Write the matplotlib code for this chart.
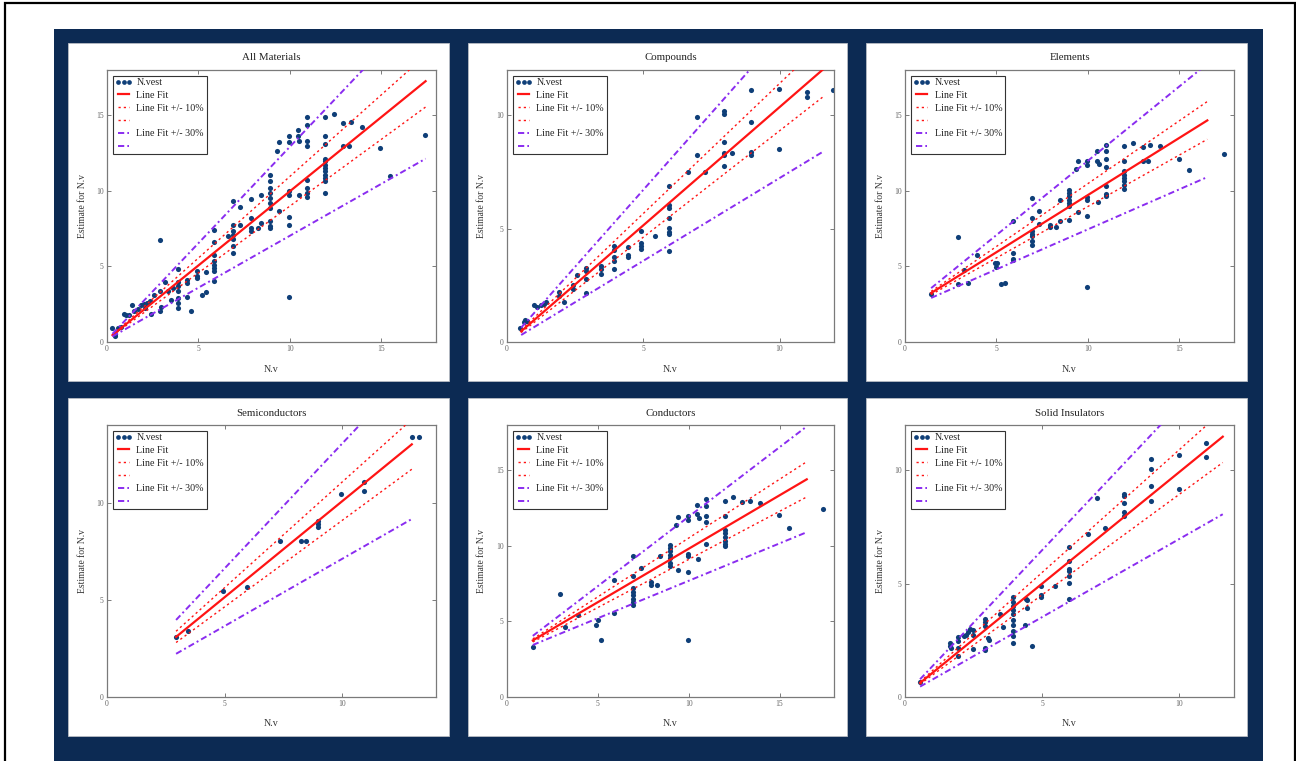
import matplotlib
matplotlib.use("Agg")
import numpy as np
import matplotlib.pyplot as plt
from matplotlib.lines import Line2D
from matplotlib.patches import Rectangle

plt.rcParams.update({
    "font.family": ["Liberation Serif", "DejaVu Serif"],
    "axes.linewidth": 0.8,
})

W, H = 1296, 761
NAVY = "#0c2a53"
DOT = "#0f3f78"
RED = "#ff1414"
PURPLE = "#8a2cf0"

# ---- data ----
TITLES = ["All Materials", "Compounds", "Elements",
          "Semiconductors", "Conductors", "Solid Insulators"]

all_x = [0.26, 0.44, 0.44, 0.59, 0.77, 0.95, 1.05, 1.23, 1.36, 1.47, 1.69, 1.87, 2.0,
         2.1, 2.2, 2.33, 2.39, 2.57, 2.88, 2.88, 2.88, 2.94, 3.16, 3.34, 3.52, 3.6,
         3.89, 3.89, 3.89, 3.89, 3.89, 3.89, 3.89, 4.35, 4.35, 4.35, 4.59, 4.9, 4.9,
         4.9, 5.21, 5.39, 5.39, 5.87, 5.87, 5.87, 5.87, 5.87, 5.87, 5.87, 5.87, 6.6,
         6.92, 6.92, 6.92, 6.92, 6.92, 6.92, 6.92, 7.28, 7.28, 7.89, 7.89, 7.89, 7.89,
         8.26, 8.4, 8.44, 8.94, 8.94, 8.94, 8.94, 8.94, 8.94, 8.94, 8.94, 8.94, 8.94,
         9.3, 9.39, 9.39, 9.94, 9.94, 9.94, 9.94, 9.94, 9.94, 9.94, 10.46, 10.46,
         10.53, 10.53, 10.92, 10.92, 10.92, 10.92, 10.92, 10.92, 10.92, 10.92,
         11.93, 11.93, 11.93, 11.93, 11.93, 11.93, 11.93, 11.93, 11.93, 11.93, 11.93,
         11.93, 12.42, 12.92, 12.92, 13.25, 13.34, 13.93, 14.95, 15.49, 17.39]
all_y = [0.93, 0.38, 0.5, 0.93, 1.0, 1.85, 1.78, 1.8, 2.43, 2.03, 2.2, 2.43, 2.5,
         2.25, 2.56, 2.69, 1.85, 3.1, 3.4, 6.78, 2.03, 2.3, 3.97, 3.36, 2.8, 3.6,
         4.8, 4.0, 3.7, 3.35, 2.9, 2.6, 2.25, 3.9, 4.1, 3.0, 2.08, 4.68, 4.24,
         4.4, 3.13, 3.31, 4.64, 7.44, 6.62, 5.78, 5.34, 5.12, 4.9, 4.68, 4.02, 7.0,
         7.77, 9.32, 7.33, 7.1, 6.84, 6.34, 5.9, 7.73, 8.92, 9.49, 8.21, 7.55, 7.33,
         7.55, 9.71, 7.88, 11.08, 10.64, 10.2, 9.87, 9.54, 9.2, 8.87, 7.99, 7.66, 7.55,
         12.63, 13.25, 8.65, 13.62, 13.22, 9.98, 9.76, 8.26, 7.77, 2.98, 14.06, 13.62,
         13.33, 9.71, 14.88, 14.35, 13.29, 12.96, 10.75, 10.2, 9.87, 9.58,
         14.88, 13.6, 13.11, 12.14, 11.96, 11.74, 11.52, 11.3, 11.08, 10.86, 10.64,
         9.87, 15.1, 14.5, 12.96, 12.96, 14.57, 14.24, 12.85, 10.97, 13.69]

comp_x = [0.49, 0.61, 0.66, 0.74, 0.98, 1.1, 1.23, 1.35, 1.44, 1.9, 1.9, 2.11,
          2.42, 2.42, 2.56, 2.91, 2.91, 2.91, 2.91, 3.44, 3.44, 3.44,
          3.92, 3.92, 3.92, 3.92, 3.92, 4.45, 4.45, 4.45, 4.91, 4.91, 4.91, 4.91,
          5.43, 5.95, 5.95, 5.95, 5.95, 5.95, 5.95, 5.95, 5.95, 6.63, 6.97, 6.97,
          7.25, 7.97, 7.97, 7.97, 7.97, 7.97, 7.97, 8.26, 8.97, 8.97, 8.97, 8.97,
          9.97, 9.97, 11.0, 11.0, 11.97]
comp_y = [0.62, 0.88, 0.95, 0.91, 1.62, 1.53, 1.62, 1.68, 1.77, 2.21, 2.02, 1.75,
          2.53, 2.36, 2.95, 3.27, 3.12, 2.78, 2.15, 3.34, 3.24, 3.0,
          4.24, 4.04, 3.74, 3.56, 3.23, 4.18, 3.86, 3.74, 4.89, 4.36, 4.23, 4.12,
          4.67, 6.88, 6.04, 5.89, 5.48, 5.01, 4.86, 4.77, 4.01, 7.51, 9.94, 8.23,
          7.48, 10.19, 10.07, 8.84, 8.32, 8.25, 7.76, 8.35, 11.1, 9.7, 8.39, 8.25,
          11.18, 8.53, 11.05, 10.82, 11.12]

elem_x = [1.4, 2.9, 2.9, 3.24, 3.46, 3.95, 4.93, 5.0, 5.06, 5.24, 5.48,
          5.92, 5.92, 5.92, 5.92, 6.95, 6.95, 6.95, 6.95, 6.95, 6.95, 6.95,
          7.35, 7.35, 7.94, 7.94, 8.27, 8.46, 8.46,
          8.97, 8.97, 8.97, 8.97, 8.97, 8.97, 8.97, 9.38, 9.47, 9.47,
          9.96, 9.96, 9.96, 9.96, 9.96, 9.96, 10.48, 10.51, 10.63, 10.57,
          10.99, 10.99, 10.99, 10.99, 10.99, 10.99, 10.99,
          12.0, 12.0, 12.0, 12.0, 12.0, 12.0, 12.0, 12.0, 12.46, 13.01, 13.01,
          13.27, 13.38, 13.97, 14.98, 15.53, 17.43]
elem_y = [3.18, 6.98, 3.84, 4.79, 3.91, 5.74, 5.25, 4.94, 5.25, 3.84, 3.93,
          7.99, 5.89, 5.52, 5.41, 9.54, 8.21, 7.33, 7.15, 7.0, 6.71, 6.4,
          8.7, 7.81, 7.77, 7.62, 7.6, 9.43, 7.99,
          10.09, 9.87, 9.65, 9.43, 9.21, 8.98, 8.1, 11.48, 11.96, 8.61,
          11.96, 11.74, 9.58, 9.38, 8.37, 3.62, 12.67, 12.0, 11.79, 9.27,
          13.02, 12.67, 12.08, 11.61, 10.31, 9.8, 9.65,
          12.96, 12.0, 11.3, 11.08, 10.86, 10.64, 10.38, 10.15, 13.18, 12.91, 12.0,
          12.0, 13.02, 12.94, 12.14, 11.41, 12.47]

semi_x = [2.94, 3.46, 4.95, 5.95, 7.37, 8.26, 8.46, 8.96, 8.96, 8.96,
          9.97, 10.95, 10.95, 12.99, 13.26]
semi_y = [3.09, 3.38, 5.48, 5.64, 8.01, 8.01, 8.01, 9.05, 8.88, 8.73,
          10.46, 11.05, 10.6, 13.4, 13.4]

cond_x = [1.42, 2.9, 3.22, 3.92, 4.91, 5.02, 5.2, 5.9, 5.9,
          6.93, 6.93, 6.93, 6.93, 6.93, 6.93, 6.93, 6.93, 7.35, 7.9, 7.9, 8.24, 8.42,
          8.95, 8.95, 8.95, 8.95, 8.95, 8.95, 8.95, 9.32, 9.43, 9.43,
          9.94, 9.94, 9.94, 9.94, 9.94, 9.94, 10.44, 10.44, 10.57, 10.53,
          10.94, 10.94, 10.94, 10.94, 10.94,
          11.99, 11.99, 11.99, 11.99, 11.99, 11.99, 11.99, 11.99,
          12.46, 12.96, 13.38, 13.93, 14.98, 15.5, 17.41]
cond_y = [3.3, 6.81, 4.63, 5.44, 4.78, 5.11, 3.79, 7.75, 5.59,
          9.3, 8.02, 7.2, 6.98, 6.76, 6.48, 6.26, 6.1, 8.52, 7.64, 7.38, 7.38, 9.3,
          10.07, 9.85, 9.63, 9.41, 9.19, 8.9, 8.68, 11.39, 11.94, 8.39,
          11.98, 11.72, 9.47, 9.3, 8.24, 3.74, 12.71, 12.11, 11.83, 9.12,
          13.08, 12.64, 11.98, 11.59, 10.13,
          12.97, 11.98, 11.06, 10.84, 10.62, 10.35, 10.13, 9.96,
          13.26, 12.89, 13.0, 12.82, 12.05, 11.17, 12.42]

ins_x = [0.55, 1.65, 1.65, 1.69, 1.93, 1.93, 1.93, 1.93, 2.14, 2.22, 2.3, 2.36,
         2.47, 2.47, 2.47, 2.93, 2.93, 2.93, 2.93, 2.93, 3.03, 3.08, 3.48, 3.57,
         3.95, 3.95, 3.95, 3.95, 3.95, 3.95, 3.95, 3.95, 3.95, 3.95,
         4.36, 4.4, 4.46, 4.46, 4.65, 4.95, 4.95, 4.95, 5.46,
         5.97, 5.97, 5.97, 5.97, 5.97, 5.97, 5.97, 6.66, 6.99, 7.3,
         7.98, 7.98, 7.98, 7.98, 7.98, 8.99, 8.99, 8.99, 8.99,
         9.99, 9.99, 10.98, 10.98]
ins_y = [0.65, 2.38, 2.26, 2.16, 2.64, 2.45, 2.16, 1.82, 2.7, 2.75, 2.85, 3.0,
         2.94, 2.75, 2.11, 3.44, 3.29, 3.14, 2.16, 2.06, 2.6, 2.53, 3.67, 3.08,
         4.41, 4.21, 4.02, 3.85, 3.67, 3.41, 3.19, 2.89, 2.67, 2.38,
         3.19, 4.32, 4.29, 3.91, 2.26, 4.88, 4.51, 4.43, 4.88,
         6.61, 6.02, 5.64, 5.54, 5.35, 5.05, 4.32, 7.2, 8.77, 7.44,
         8.96, 8.87, 8.55, 8.18, 7.99, 10.5, 10.06, 9.32, 8.66,
         10.68, 9.16, 11.22, 10.6]

# line fit: intercept, slope, x start, x end
FITS = [(0.16, 0.981, 0.3, 17.43),
        (-0.07, 1.043, 0.52, 11.6),
        (2.16, 0.756, 1.43, 16.54),
        (0.19, 0.988, 2.94, 12.97),
        (2.74, 0.707, 1.42, 16.5),
        (0.08, 0.984, 0.55, 11.59)]
LIMITS = [18, 12, 18, 14, 18, 12]
XS = [all_x, comp_x, elem_x, semi_x, cond_x, ins_x]
YS = [all_y, comp_y, elem_y, semi_y, cond_y, ins_y]

LEGEND_LABELS = ["N.vest", "Line Fit", "Line Fit +/- 10%", "",
                 "Line Fit +/- 30%", ""]

# panel boxes in pixels (left, top, right, bottom)
COLS = [(68, 449), (468, 847), (866, 1247)]
ROWS = [(43, 381), (398, 736)]

DOTTED = (0, (1.6, 2.2))
DASHDOT = (0, (3.2, 1.6, 1.0, 1.6))


def frac(l, t, r, b):
    return [l / W, 1 - b / H, (r - l) / W, (b - t) / H]


fig = plt.figure(figsize=(W / 100, H / 100), dpi=100)
fig.patch.set_facecolor("white")

# outer frame + navy backing
fig.add_artist(Rectangle((5 / W, -0.01), 1290 / W, 1 - 3 / H + 0.01,
                         transform=fig.transFigure, fill=False,
                         edgecolor="black", linewidth=1.6, zorder=-3))
fig.add_artist(Rectangle((54 / W, 0), (1263 - 54) / W, 1 - 29 / H,
                         transform=fig.transFigure, facecolor=NAVY,
                         edgecolor="none", zorder=-2))

for i in range(6):
    l, r = COLS[i % 3]
    t, b = ROWS[i // 3]
    fig.add_artist(Rectangle((l / W, 1 - b / H), (r - l) / W, (b - t) / H,
                             transform=fig.transFigure, facecolor="white",
                             edgecolor="#b8bcc4", linewidth=0.6, zorder=-1))

    al, at, ar, ab = l + 39, t + 27, r - 13, b - 39
    ax = fig.add_axes(frac(al, at, ar, ab))
    ax.set_zorder(1)
    lim = LIMITS[i]
    xs, ys = XS[i], YS[i]
    c0, c1, x0, x1 = FITS[i]
    fx = np.array([x0, x1])

    ax.plot(xs, ys, "o", color=DOT, markersize=3.7, markeredgewidth=0, zorder=2)
    ax.plot(fx, c0 + c1 * fx, color=RED, lw=1.6, zorder=3)
    for k in (1.1, 0.9):
        ax.plot(fx, c0 + k * c1 * fx, color=RED, lw=1.0, ls=DOTTED, zorder=3)
    for k in (1.3, 0.7):
        ax.plot(fx, c0 + k * c1 * fx, color=PURPLE, lw=1.4, ls=DASHDOT, zorder=3)

    ax.set_xlim(0, lim)
    ax.set_ylim(0, lim)
    ticks = [0, 5, 10, 15] if lim == 18 else [0, 5, 10]
    ax.set_xticks(ticks)
    ax.set_yticks(ticks)
    ax.tick_params(direction="in", top=True, right=True, length=3, width=0.6,
                   color="#666666", labelsize=5.5, labelcolor="#666666", pad=2.5)
    for s in ax.spines.values():
        s.set_color("#7a7a7a")
        s.set_linewidth(0.9)

    ax.text(0.5, 1 + 12 / (ab - at), TITLES[i], transform=ax.transAxes,
            ha="center", va="center", fontsize=7.8, color="#222222")
    ax.text(0.5, -27 / (ab - at), "N.v", transform=ax.transAxes,
            ha="center", va="center", fontsize=7.2, color="#333333")
    ax.text(-25 / (ar - al), 0.5, "Estimate for N.v", transform=ax.transAxes,
            ha="center", va="center", rotation=90, fontsize=6.9, color="#333333")

    handles = [
        Line2D([], [], marker="o", ls="none", color=DOT, markersize=3.4,
               markeredgewidth=0),
        Line2D([], [], color=RED, lw=1.6),
        Line2D([], [], color=RED, lw=1.0, ls=DOTTED),
        Line2D([], [], color=RED, lw=1.0, ls=DOTTED),
        Line2D([], [], color=PURPLE, lw=1.4, ls=DASHDOT),
        Line2D([], [], color=PURPLE, lw=1.4, ls=DASHDOT),
    ]
    leg = ax.legend(handles, LEGEND_LABELS, loc="upper left", numpoints=3,
                    fontsize=7.2, frameon=True, fancybox=False, framealpha=1,
                    edgecolor="#333333", borderpad=0.25, labelspacing=0.38,
                    handlelength=1.7, handletextpad=0.45, borderaxespad=0.55)
    leg.get_frame().set_linewidth(0.8)
    for txt in leg.get_texts():
        txt.set_color("#222222")

fig.savefig("out.png", dpi=100, facecolor="white")
